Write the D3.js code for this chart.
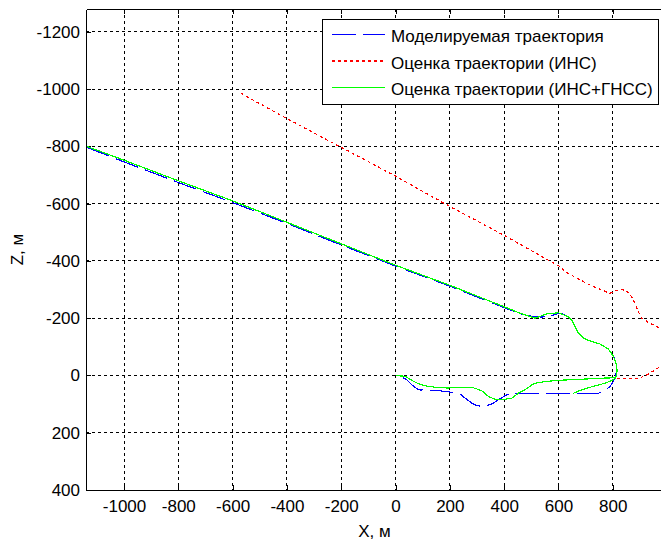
<!DOCTYPE html>
<meta charset="utf-8" />
<style>
  body { margin: 0; background: #fff; overflow: hidden; }
  svg { font: 17px "Liberation Sans", Arial, sans-serif; }
</style>
<body>
<svg id="chart"></svg>
<script src="https://d3js.org/d3.v7.min.js"></script>
<script>
  // X, Z pairs in metres
  var simTraj = [
    [-1137, -797], [-1000, -746], [-800, -674], [-600, -604], [-400, -531],
    [-200, -456], [0, -382], [200, -312], [400, -237], [460, -215],
    [500, -207], [540, -204], [575, -209], [605, -218], [631, -208],
    [649, -194], [661, -171], [673, -148], [692, -130], [716, -121],
    [753, -110], [784, -92], [802, -68], [812, -43], [815, -19],
    [810, 2], [802, 21], [790, 38], [765, 56], [741, 64], [704, 64],
    [575, 64], [465, 64], [422, 62], [403, 71], [385, 81], [366, 93],
    [348, 102], [317, 108], [299, 105], [281, 97], [256, 79], [238, 64],
    [201, 58], [158, 53], [115, 52], [84, 50], [60, 33], [41, 15],
    [23, 6], [0, 0]
  ];

  // INS only; null = the track leaves the plot on the right
  var insTraj = [
    [-570, -986], [-413, -904], [-253, -823], [-204, -799], [4, -694],
    [189, -596], [397, -491], [606, -380], [624, -363], [667, -340],
    [716, -316], [753, -301], [790, -287], [802, -293], [827, -301],
    [851, -296], [870, -275], [882, -252], [894, -223], [907, -200],
    [937, -182], [974, -165], [1000, -152],
    null,
    [815, 10], [864, 12], [900, 9], [937, -8], [962, -23], [1000, -50]
  ];

  // INS + GNSS
  var fusedTraj = [
    [-1137, -800], [-1000, -752], [-800, -680], [-600, -610], [-400, -535],
    [-200, -460], [0, -385], [200, -315], [400, -240], [460, -217],
    [500, -204], [514, -200], [557, -215], [600, -219], [637, -205],
    [649, -194], [661, -171], [673, -148], [692, -130], [716, -121],
    [753, -110], [784, -92], [802, -68], [812, -43], [816, -19],
    [814, 0], [808, 8], [772, 9], [686, 13], [600, 17], [551, 21],
    [514, 27], [500, 34], [477, 50], [452, 62], [428, 79], [403, 83],
    [366, 83], [342, 73], [317, 53], [281, 41], [207, 41], [194, 44],
    [145, 41], [109, 36], [84, 29], [60, 17], [35, 3], [0, 0],
    null,
    [655, 62], [686, 50], [735, 36], [772, 27], [802, 15], [812, 6]
  ];

  var legendNames = [
    "Моделируемая траектория",
    "Оценка траектории (ИНС)",
    "Оценка траектории (ИНС+ГНСС)"
  ];
  var xTicks = [-1000, -800, -600, -400, -200, 0, 200, 400, 600, 800];
  var zTicks = [-1200, -1000, -800, -600, -400, -200, 0, 200, 400];

  (function () {
  var width = 661, height = 542;
  var pl = 86, pt = 9, pr = 663, pb = 490;

  var svg = d3.select("#chart").attr("width", width).attr("height", height);

  var x = d3.scaleLinear().domain([-1140, 985]).range([pl, pr]);
  var y = d3.scaleLinear().domain([-1280, 400]).range([pt, pb]);

  svg.append("clipPath").attr("id", "plotclip")
    .append("rect")
    .attr("x", pl).attr("y", pt)
    .attr("width", pr - pl).attr("height", pb - pt);

  // grid
  var grid = svg.append("g")
    .attr("stroke", "#000")
    .attr("stroke-width", 1)
    .attr("stroke-dasharray", "3,3")
    .attr("shape-rendering", "crispEdges");
  grid.selectAll(".gx").data(xTicks).enter().append("line")
    .attr("x1", d => x(d)).attr("x2", d => x(d))
    .attr("y1", pt).attr("y2", pb);
  grid.selectAll(".gy").data(zTicks).enter().append("line")
    .attr("x1", pl).attr("x2", pr)
    .attr("y1", d => y(d)).attr("y2", d => y(d));

  // axes, ticks pointing inside like matlab
  var fmt = d => String(d);
  svg.append("g")
    .attr("transform", "translate(0," + pb + ")")
    .call(d3.axisBottom(x).tickValues(xTicks).tickFormat(fmt)
      .tickSizeInner(-5).tickSizeOuter(0).tickPadding(10));
  svg.append("g")
    .attr("transform", "translate(0," + pt + ")")
    .call(d3.axisTop(x).tickValues(xTicks).tickFormat("")
      .tickSizeInner(-5).tickSizeOuter(0));
  svg.append("g")
    .attr("transform", "translate(" + pl + ",0)")
    .call(d3.axisLeft(y).tickValues(zTicks).tickFormat(fmt)
      .tickSizeInner(-5).tickSizeOuter(0).tickPadding(6));

  svg.selectAll(".tick text").attr("fill", "#000")
    .style("font", '17px "Liberation Sans", Arial, sans-serif');
  svg.selectAll(".domain, .tick line")
    .attr("stroke", "#000").attr("shape-rendering", "crispEdges");

  // tracks (aliased, like the old matlab renderer)
  var line = d3.line()
    .defined(d => d !== null)
    .x(d => x(d[0])).y(d => y(d[1]));

  var plot = svg.append("g").attr("clip-path", "url(#plotclip)")
    .attr("fill", "none").attr("stroke-width", 1.2)
    .attr("shape-rendering", "crispEdges");
  plot.append("path").datum(simTraj).attr("d", line)
    .attr("stroke", "#0000ff").attr("stroke-dasharray", "24,7");
  plot.append("path").datum(insTraj).attr("d", line)
    .attr("stroke", "#ff0000").attr("stroke-dasharray", "3,3");
  plot.append("path").datum(fusedTraj).attr("d", line)
    .attr("stroke", "#00ff00");

  // axis labels
  svg.append("text")
    .attr("x", (pl + pr) / 2).attr("y", 537)
    .attr("text-anchor", "middle")
    .text("X, м");
  svg.append("text")
    .attr("transform", "translate(23," + (pt + pb) / 2 + ") rotate(-90)")
    .attr("text-anchor", "middle")
    .text("Z, м");

  // legend
  var lg = svg.append("g");
  lg.append("rect")
    .attr("x", 322.5).attr("y", 19.5).attr("width", 336).attr("height", 85)
    .attr("fill", "#fff").attr("stroke", "#000");
  var styles = [
    { c: "#0000ff", dash: "24,7" },
    { c: "#ff0000", dash: "3,3" },
    { c: "#00ff00", dash: null }
  ];
  legendNames.forEach(function (name, i) {
    var ly = 34.5 + i * 26.5;
    lg.append("line")
      .attr("x1", 332).attr("x2", 385)
      .attr("y1", ly).attr("y2", ly)
      .attr("stroke", styles[i].c)
      .attr("stroke-width", 1.2)
      .attr("shape-rendering", "crispEdges")
      .attr("stroke-dasharray", styles[i].dash);
    lg.append("text")
      .attr("x", 391).attr("y", ly + 7.5)
      .text(name);
  });
  })();
</script>
</body>
